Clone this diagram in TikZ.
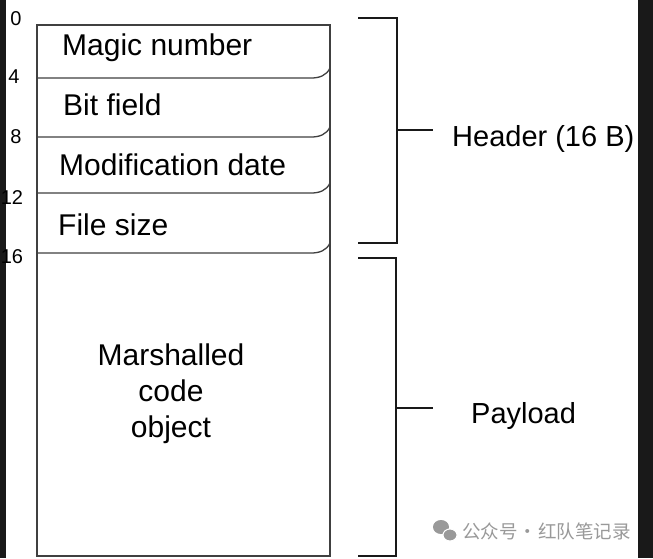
\documentclass[tikz,border=0pt]{standalone}
\usepackage{fontspec}
\setmainfont{Liberation Sans}
\newfontfamily\cjkfont{Noto Sans CJK SC}
\begin{document}
\begin{tikzpicture}[x=1pt,y=-1pt,
  boxline/.style={draw=black!75,line width=1.3pt},
  brace/.style={draw=black!90,line width=2.6pt},
  field/.style={anchor=base west,inner sep=0pt,font=\fontsize{30}{36}\selectfont},
  side/.style={anchor=base west,inner sep=0pt,font=\fontsize{29}{35}\selectfont},
  offset/.style={anchor=base,inner sep=0pt,font=\fontsize{20}{24}\selectfont}]
\useasboundingbox (0,0) rectangle (653,558);
\fill[white] (0,0) rectangle (653,558);
\fill[black!90] (0,0) rectangle (6,558);
\fill[black!90] (638,0) rectangle (653,558);
\coordinate (tl) at (37,25);
\coordinate (tr) at (330,25);
\coordinate (br) at (330,556);
\coordinate (bl) at (37,556);
\coordinate (l4) at (37,78);
\coordinate (c4) at (311,78);
\coordinate (r4) at (330,68);
\coordinate (l8) at (37,137);
\coordinate (c8) at (311,137);
\coordinate (r8) at (330,127);
\coordinate (l12) at (37,193);
\coordinate (c12) at (311,193);
\coordinate (r12) at (330,183);
\coordinate (l16) at (37,253);
\coordinate (c16) at (311,253);
\coordinate (r16) at (330,243);
\node[offset] (o0) at (16,25) {0};
\node[offset] (o4) at (14,83) {4};
\node[offset] (o8) at (16,143) {8};
\node[offset] (o12) at (12,204) {12};
\node[offset] (o16) at (12,263) {16};
\node[field] (magic) at (62,55) {Magic number};
\node[field] (bits) at (63,115) {Bit field};
\node[field] (mdate) at (59,175) {Modification date};
\node[field] (fsize) at (58,235) {File size};
\node[align=center,inner sep=0pt,font=\fontsize{30}{36}\selectfont] (code) at (171,394) {Marshalled\\code\\object};
\draw[boxline] (tl) -- (tr) -- (br) -- (bl) -- cycle;
\draw[boxline] (l4) -- (c4) to[out=0,in=-115] (r4);
\draw[boxline] (l8) -- (c8) to[out=0,in=-115] (r8);
\draw[boxline] (l12) -- (c12) to[out=0,in=-115] (r12);
\draw[boxline] (l16) -- (c16) to[out=0,in=-115] (r16);
\coordinate (ht) at (358,18);
\coordinate (htc) at (397,18);
\coordinate (hbc) at (397,243);
\coordinate (hb) at (358,243);
\coordinate (hm) at (397,130);
\coordinate (hmt) at (433,130);
\node[side] (header) at (452,146) {Header (16 B)};
\draw[brace] (ht) -- (htc) -- (hbc) -- (hb);
\draw[brace] (hm) -- (hmt);
\coordinate (pt) at (358,258);
\coordinate (ptc) at (396,258);
\coordinate (pbc) at (396,556);
\coordinate (pb) at (358,556);
\coordinate (pm) at (396,408);
\coordinate (pmt) at (433,408);
\node[side] (payload) at (471,423) {Payload};
\draw[brace] (pt) -- (ptc) -- (pbc) -- (pb);
\draw[brace] (pm) -- (pmt);
\fill[black!40] (441,527) ellipse (8 and 7);
\fill[black!40,draw=white,line width=1pt] (450,535) ellipse (7 and 6);
\node[anchor=west,inner sep=0pt,text=black!40,font=\cjkfont\fontsize{18.5}{22}\selectfont] (mark) at (462,531) {公众号\hspace{1pt}·\hspace{1pt}红队笔记录};
\end{tikzpicture}
\end{document}
